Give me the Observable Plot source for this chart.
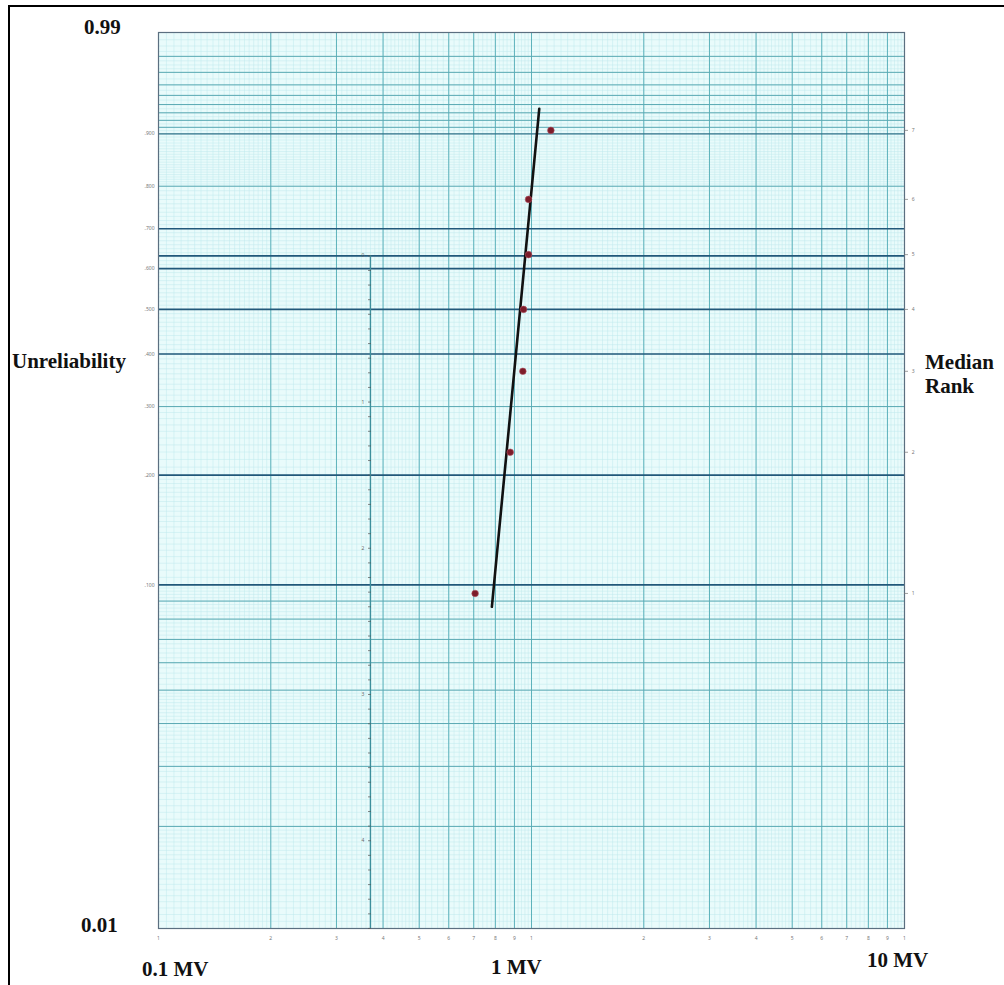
<!DOCTYPE html>
<html>
<head>
<meta charset="utf-8">
<script src="https://cdn.jsdelivr.net/npm/d3@7"></script>
<script src="https://cdn.jsdelivr.net/npm/@observablehq/plot@0.6"></script>
<style>
  html, body { margin: 0; padding: 0; background: #fff; }
  #wrap { position: relative; width: 1004px; height: 985px; overflow: hidden; }
  #wrap svg { position: absolute; left: 0; top: 0; }
  .border-top { position: absolute; left: 8px; top: 5px; width: 996px; height: 0; border-top: 2.5px solid #000; }
  .border-left { position: absolute; left: 8px; top: 5px; width: 0; height: 980px; border-left: 2px solid #000; }
  .lbl { position: absolute; font-family: "Liberation Serif", "Times New Roman", serif; font-weight: bold; font-size: 21px; color: #111; line-height: 24px; white-space: nowrap; }
</style>
</head>
<body>
<div id="wrap">
  <div class="border-top"></div>
  <div class="border-left"></div>
</div>
<script>
// ---- data ----
const ranks = [1, 2, 3, 4, 5, 6, 7];
const medianRank = [0.0946, 0.2297, 0.3649, 0.5, 0.6351, 0.7703, 0.9054];
const voltageMV = [0.706, 0.877, 0.948, 0.952, 0.982, 0.982, 1.127];
const fitX = [0.783, 1.049];
const fitF = [0.0867, 0.935];

// axis / grid labels
const leftTickF = [0.9, 0.8, 0.7, 0.6, 0.5, 0.4, 0.3, 0.2, 0.1];
const leftTickText = [".900", ".800", ".700", ".600", ".500", ".400", ".300", ".200", ".100"];
const darkF = [0.1, 0.2, 0.4, 0.5, 0.6, 0.632, 0.7];
const midDarkF = [0.9];
const mediumF = [0.01, 0.02, 0.03, 0.04, 0.05, 0.06, 0.07, 0.08, 0.09, 0.3, 0.8,
                 0.91, 0.92, 0.93, 0.94, 0.95, 0.96, 0.97, 0.98, 0.99];
const decades = [0.1, 1];
const digits = [1, 2, 3, 4, 5, 6, 7, 8, 9];
const betaLabels = ["0", "1", "2", "3", "4"];
const betaScaleX = 0.37;

// Weibull probability transform
const w = F => Math.log(-Math.log(1 - F));

// ---- grid construction ----
const majorX = [];
decades.forEach(d => digits.forEach(k => majorX.push(+(d * k).toPrecision(3))));
majorX.push(10);

const minorX = [];
decades.forEach(d => {
  for (let i = 100; i < 200; i += 5) minorX.push(d * i / 100);
  for (let i = 200; i < 500; i += 10) minorX.push(d * i / 100);
  for (let i = 500; i < 1000; i += 20) minorX.push(d * i / 100);
});

const minorF = [];
function addF(a, b, step) { // a,b,step in units of 1e-4
  for (let i = a; i < b; i += step) minorF.push(i / 10000);
}
addF(100, 200, 5);
addF(200, 500, 10);
addF(500, 1000, 20);
addF(1000, 2000, 50);
addF(2000, 8000, 100);
addF(8000, 9000, 50);
addF(9000, 9700, 50);
addF(9700, 9900, 25);

const betaTicks = d3.range(0, 47).map(i => -i / 10).filter(v => v >= w(0.01));
const betaLabelPos = betaLabels.map((t, i) => ({t, y: -i}));

const points = ranks.map((r, i) => ({rank: r, F: medianRank[i], x: voltageMV[i]}));
const fit = fitX.map((x, i) => ({x, F: fitF[i]}));

const xLabels = [];
decades.forEach(d => digits.forEach(k => xLabels.push({x: d * k, t: String(k)})));
xLabels.push({x: 10, t: "1"});

const chart = Plot.plot({
  width: 1004,
  height: 985,
  marginLeft: 158,
  marginRight: 100,
  marginTop: 32,
  marginBottom: 57,
  x: {type: "log", domain: [0.1, 10], axis: null},
  y: {type: "linear", domain: [w(0.01), w(0.99)], axis: null},
  style: {background: "transparent", overflow: "visible"},
  marks: [
    Plot.frame({fill: "#e9fbfb", stroke: null}),
    Plot.ruleX(minorX, {stroke: "#bfe9ed", strokeWidth: 0.5}),
    Plot.ruleY(minorF, {y: d => w(d), stroke: "#bfe9ed", strokeWidth: 0.5}),
    Plot.ruleX(majorX, {stroke: "#5db2bb", strokeWidth: 1}),
    Plot.ruleY(mediumF, {y: d => w(d), stroke: "#5aa9b3", strokeWidth: 1}),
    Plot.ruleY(midDarkF, {y: d => w(d), stroke: "#2f7088", strokeWidth: 1.4}),
    Plot.ruleY(darkF, {y: d => w(d), stroke: "#22587a", strokeWidth: 1.6}),
    Plot.frame({stroke: "#5b6f80", strokeWidth: 1.2}),
    // slope (beta) estimator scale
    Plot.ruleX([betaScaleX], {y1: w(0.632), y2: w(0.01), stroke: "#3d8f9c", strokeWidth: 1.4}),
    Plot.ruleY(betaTicks, {y: d => d, x1: betaScaleX / 1.012, x2: betaScaleX * 1.006, stroke: "#555", strokeWidth: 0.7}),
    Plot.text(betaLabelPos, {x: betaScaleX, y: "y", text: "t", dx: -6, textAnchor: "end", fontSize: 5, fill: "#666"}),
    // left small tick labels
    Plot.text(leftTickF, {y: d => w(d), text: (d, i) => leftTickText[i], frameAnchor: "left", dx: -4, textAnchor: "end", fontSize: 5, fill: "#777"}),
    // bottom small tick labels
    Plot.text(xLabels, {x: "x", text: "t", frameAnchor: "bottom", dy: 11, fontSize: 5, fill: "#777"}),
    // right rank ticks & labels
    Plot.ruleY(points, {y: d => w(d.F), x1: 10, x2: 10.25, stroke: "#777", strokeWidth: 0.7}),
    Plot.text(points, {y: d => w(d.F), text: d => String(d.rank), frameAnchor: "right", dx: 10, fontSize: 5, fill: "#777"}),
    // fit line and data points
    Plot.line(fit, {x: "x", y: d => w(d.F), stroke: "#111", strokeWidth: 2.6}),
    Plot.dot(points, {x: "x", y: d => w(d.F), r: 3.3, fill: "#7c1c2a", stroke: "#b05060", strokeWidth: 0.6})
  ]
});

const wrap = document.getElementById("wrap");
wrap.insertBefore(chart, wrap.firstChild);

const labels = [
  {t: "0.99", x: 84, y: 15},
  {t: "0.01", x: 81, y: 913},
  {t: "Unreliability", x: 12, y: 349},
  {t: "Median<br>Rank", x: 925, y: 350},
  {t: "0.1 MV", x: 142, y: 957},
  {t: "1 MV", x: 491, y: 955},
  {t: "10 MV", x: 867, y: 948}
];
labels.forEach(l => {
  const el = document.createElement("div");
  el.className = "lbl";
  el.innerHTML = l.t;
  el.style.left = l.x + "px";
  el.style.top = l.y + "px";
  wrap.appendChild(el);
});
</script>
</body>
</html>
